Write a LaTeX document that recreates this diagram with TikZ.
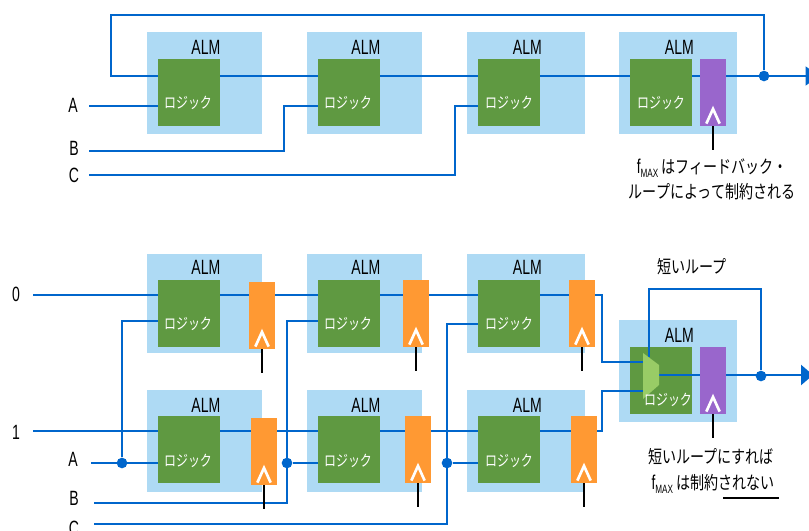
\documentclass[tikz,border=0pt]{standalone}
\usepackage{fontspec}
\setmainfont[FakeStretch=0.68]{Liberation Sans}
\newfontfamily\jp[FakeStretch=0.78]{Noto Sans CJK JP}
\usetikzlibrary{arrows.meta,backgrounds}
\definecolor{almblue}{HTML}{AEDAF4}
\definecolor{wireblue}{HTML}{0066CC}
\definecolor{logicgreen}{HTML}{5F9941}
\definecolor{muxgreen}{HTML}{99CC66}
\definecolor{regpurple}{HTML}{9966CC}
\definecolor{regorange}{HTML}{FF9933}
\newcommand{\fmax}{{\fontsize{15}{16}\selectfont f}\raisebox{-3.5pt}{\fontsize{9}{10}\selectfont MAX}}
\tikzset{
  almbox/.style={fill=almblue,inner sep=0pt,minimum width=86.25pt,minimum height=76.5pt,
    label={[font=\fontsize{15.5}{17}\selectfont,text=black,inner sep=0pt,yshift=27pt,xshift=1pt]center:ALM}},
  logicbox/.style={fill=logicgreen,inner sep=0pt,minimum width=46.5pt,minimum height=50.25pt},
  logictxt/.style={font=\jp\fontsize{11.5}{13}\selectfont,text=white,inner sep=0pt},
  regbox/.style={inner sep=0pt,minimum width=19.5pt,minimum height=50.25pt},
  wire/.style={draw=wireblue,line width=1.8pt},
  junct/.style={circle,fill=wireblue,inner sep=0pt,minimum size=8pt},
  clk/.style={draw=white,line width=2pt},
  tick/.style={draw=black,line width=1.6pt},
  pinlabel/.style={font=\fontsize{15.5}{17}\selectfont,inner sep=0pt},
  note/.style={font=\jp\fontsize{13.5}{15}\selectfont,inner sep=0pt,align=center}
}
\begin{document}
\begin{tikzpicture}[x=0.75pt,y=-0.75pt]
\useasboundingbox (0,0) rectangle (809,531);

% upper chain
\node[logicbox] (lgT1) at (189,92.5) {};
\node[logicbox] (lgT2) at (349,92.5) {};
\node[logicbox] (lgT3) at (509,92.5) {};
\node[logicbox] (lgT4) at (661,92.5) {};
\node[regbox,fill=regpurple] (regT) at (713,92.5) {};
\node[logictxt] (txT1) at (188,103) {ロジック};
\node[logictxt] (txT2) at (348,103) {ロジック};
\node[logictxt] (txT3) at (509,103) {ロジック};
\node[logictxt] (txT4) at (661,103) {ロジック};
\coordinate (inA) at (89,106);
\coordinate (inB) at (89,151);
\coordinate (inC) at (89,175);
\coordinate (bendB) at (284,151);
\coordinate (bendC) at (455,175);
\coordinate (loopR) at (764,15);
\coordinate (loopL) at (111,15);
\coordinate (outT) at (819,76);
\node[junct] (dotT) at (764,76) {};

% lower chains
\node[logicbox] (lgU1) at (189,313.5) {};
\node[logicbox] (lgU2) at (349,313.5) {};
\node[logicbox] (lgU3) at (509,313.5) {};
\node[logicbox] (lgD1) at (189,449.5) {};
\node[logicbox] (lgD2) at (349,449.5) {};
\node[logicbox] (lgD3) at (509,449.5) {};
\node[logicbox] (lgM) at (661,380.5) {};
\node[regbox,fill=regorange] (ffU1) at (262,315.5) {};
\node[regbox,fill=regorange] (ffU2) at (416,313.5) {};
\node[regbox,fill=regorange] (ffU3) at (582,313.5) {};
\node[regbox,fill=regorange] (ffD1) at (264,451.5) {};
\node[regbox,fill=regorange] (ffD2) at (418,449.5) {};
\node[regbox,fill=regorange] (ffD3) at (584,449.5) {};
\node[regbox,fill=regpurple] (regM) at (713,380.5) {};
\node[logictxt] (txU1) at (188,324) {ロジック};
\node[logictxt] (txU2) at (348,324) {ロジック};
\node[logictxt] (txU3) at (509,324) {ロジック};
\node[logictxt] (txD1) at (188,461) {ロジック};
\node[logictxt] (txD2) at (348,461) {ロジック};
\node[logictxt] (txD3) at (509,461) {ロジック};
\coordinate (in0) at (33,295);
\coordinate (in1) at (33,431);
\coordinate (inA2) at (91,463);
\coordinate (inB2) at (94,503);
\coordinate (inC2) at (94,524);
\coordinate (bendB2) at (287,503);
\coordinate (bendC2) at (447,524);
\coordinate (muxU) at (643,362);
\coordinate (muxD) at (643,391);
\coordinate (muxO) at (659,375);
\coordinate (muxL) at (649,357);
\coordinate (loopM) at (649,289);
\coordinate (loopN) at (761,289);
\coordinate (outM) at (813,375);
\node[junct] (dotA) at (122,463) {};
\node[junct] (dotB) at (287,463) {};
\node[junct] (dotC) at (447,463) {};
\node[junct] (dotM) at (761,376) {};

\begin{scope}[on background layer]
\node[almbox] (almT1) at (204.5,83) {};
\node[almbox] (almT2) at (364.5,83) {};
\node[almbox,minimum width=88.5pt] (almT3) at (526,83) {};
\node[almbox,minimum width=88.5pt] (almT4) at (678,83) {};
\node[almbox,minimum height=74.25pt] (almU1) at (204.5,303.5) {};
\node[almbox,minimum height=74.25pt] (almU2) at (364.5,303.5) {};
\node[almbox,minimum width=88.5pt,minimum height=74.25pt] (almU3) at (526,303.5) {};
\node[almbox] (almD1) at (204.5,441) {};
\node[almbox] (almD2) at (364.5,441) {};
\node[almbox,minimum width=88.5pt] (almD3) at (526,441) {};
\node[almbox,minimum width=88.5pt] (almM) at (678,371) {};

\draw[wire] (dotT) -- (loopR) -- (loopL) |- (lgT4.west |- dotT);
\draw[wire] (lgT4.east |- dotT) -- (regT.west |- dotT);
\draw[wire,-{Triangle[length=10pt,width=14pt]}] (regT.east |- dotT) -- (outT);
\draw[wire] (inA) -- (inA -| lgT1.west);
\draw[wire] (inB) -- (bendB) |- (lgT2.west |- inA);
\draw[wire] (inC) -- (bendC) |- (lgT3.west |- inA);

\draw[wire] (in0) -- (ffU3.west |- in0);
\draw[wire] (in1) -- (ffD3.west |- in1);
\draw[wire] (inA2) -- (inA2 -| lgD1.west);
\draw[wire] (dotA) |- (lgU1.west |- 0,321);
\draw[wire] (inB2) -- (bendB2) |- (lgU2.west |- 0,321);
\draw[wire] (dotB) -- (dotB -| lgD2.west);
\draw[wire] (inC2) -- (bendC2) |- (lgU3.west |- 0,324);
\draw[wire] (dotC) -- (dotC -| lgD3.west);
\end{scope}

% wires over the last logic block
\draw[wire] (ffU3.east |- in0) -| (602,362) -- (muxU);
\draw[wire] (ffD3.east |- in1) -| (602,391) -- (muxD);
\draw[wire] (muxO) -- (regM.west |- muxO);
\draw[wire,-{Triangle[length=9pt,width=15pt]}] (regM.east |- muxO) -- (outM);
\draw[wire] (dotM) -- (loopN) -- (loopM) -- (muxL);
\fill[muxgreen] (643,353) -- (659,365) -- (659,385) -- (643,399) -- cycle;
\node[logictxt] (txM) at (668,400) {ロジック};

% clock inputs
\draw[tick] (regT.south) -- ++(0,24);
\draw[tick] (regM.south) -- ++(0,24);
\draw[tick] (ffU1.south) -- ++(0,24);
\draw[tick] (ffU2.south) -- ++(0,24);
\draw[tick] (ffU3.south) -- ++(0,24);
\draw[tick] (ffD1.south) -- ++(0,24);
\draw[tick] (ffD2.south) -- ++(0,24);
\draw[tick] (ffD3.south) -- ++(0,24);
\draw[clk] ([xshift=-5pt,yshift=2pt]regT.south) -- ([yshift=13pt]regT.south) -- ([xshift=5pt,yshift=2pt]regT.south);
\draw[clk] ([xshift=-5pt,yshift=2pt]regM.south) -- ([yshift=13pt]regM.south) -- ([xshift=5pt,yshift=2pt]regM.south);
\draw[clk] ([xshift=-5pt,yshift=2pt]ffU1.south) -- ([yshift=13pt]ffU1.south) -- ([xshift=5pt,yshift=2pt]ffU1.south);
\draw[clk] ([xshift=-5pt,yshift=2pt]ffU2.south) -- ([yshift=13pt]ffU2.south) -- ([xshift=5pt,yshift=2pt]ffU2.south);
\draw[clk] ([xshift=-5pt,yshift=2pt]ffU3.south) -- ([yshift=13pt]ffU3.south) -- ([xshift=5pt,yshift=2pt]ffU3.south);
\draw[clk] ([xshift=-5pt,yshift=2pt]ffD1.south) -- ([yshift=13pt]ffD1.south) -- ([xshift=5pt,yshift=2pt]ffD1.south);
\draw[clk] ([xshift=-5pt,yshift=2pt]ffD2.south) -- ([yshift=13pt]ffD2.south) -- ([xshift=5pt,yshift=2pt]ffD2.south);
\draw[clk] ([xshift=-5pt,yshift=2pt]ffD3.south) -- ([yshift=13pt]ffD3.south) -- ([xshift=5pt,yshift=2pt]ffD3.south);

% texts
\node[pinlabel] (pinA) at (73,105) {A};
\node[pinlabel] (pinB) at (74,148) {B};
\node[pinlabel] (pinC) at (74,175) {C};
\node[pinlabel] (pin0) at (16,294) {0};
\node[pinlabel] (pin1) at (16,432) {1};
\node[pinlabel] (pinA2) at (73,459) {A};
\node[pinlabel] (pinB2) at (74,498) {B};
\node[pinlabel] (pinC2) at (74,528) {C};
\node[note] (noteT1) at (712,168) {{\rmfamily\fmax} はフィードバック・};
\node[note] (noteT2) at (712,192) {ループによって制約される};
\node[note] (noteS) at (692,267) {短いループ};
\node[note] (noteM1) at (711,457) {短いループにすれば};
\node[note] (noteM2) at (713,484) {{\rmfamily\fmax} は制約されない};
\coordinate (ulL) at (723,498);
\coordinate (ulR) at (779,498);
\draw[tick] (ulL) -- (ulR);
\end{tikzpicture}
\end{document}
